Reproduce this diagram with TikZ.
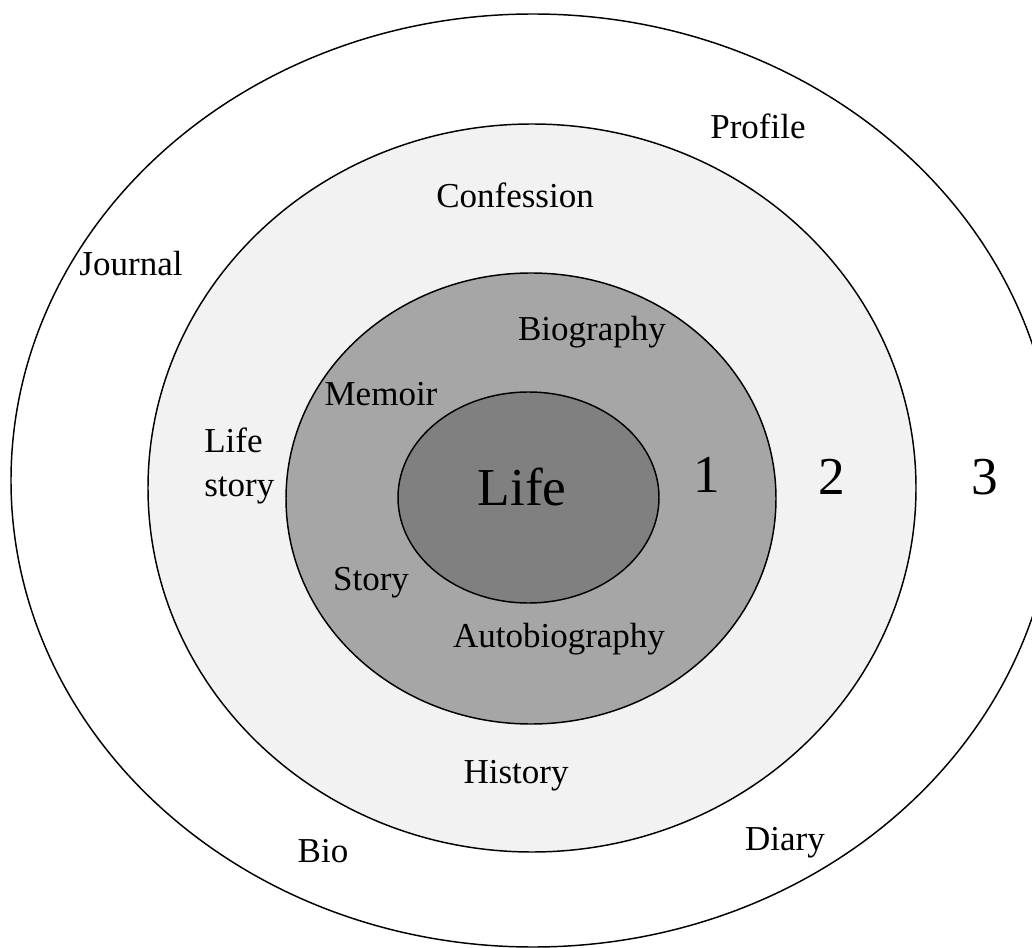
\documentclass[tikz,border=0pt]{standalone}
\usepackage{fontspec}
\setmainfont{Liberation Serif}
\definecolor{ringtwo}{HTML}{F2F2F2}
\definecolor{ringone}{HTML}{A6A6A6}
\definecolor{core}{HTML}{808080}
\begin{document}
\begin{tikzpicture}[x=0.75pt,y=-0.75pt,
  ring/.style={draw=black,line width=1.1pt},
  lbl/.style={anchor=base,inner sep=0pt,font=\fontsize{26.25}{31.5}\selectfont},
  biglbl/.style={anchor=base,inner sep=0pt,font=\fontsize{40}{48}\selectfont}]
\useasboundingbox (0,0) rectangle (1032,948);
\clip (0,0) rectangle (1032,948);
\fill[white] (0,0) rectangle (1032,948);
\draw[ring,fill=white] (533,480.5) ellipse [x radius=522, y radius=466.5];
\draw[ring,fill=ringtwo] (532,488) ellipse [x radius=384, y radius=364];
\draw[ring,fill=ringone] (531,498.5) ellipse [x radius=245, y radius=225.5];
\draw[ring,fill=core] (528.5,497.5) ellipse [x radius=130.5, y radius=105.5];
% ring 3
\node[lbl] (profile) at (758,139) {Profile};
\node[lbl] (journal) at (131,276) {Journal};
\node[lbl] (bio) at (323,862) {Bio};
\node[lbl] (diary) at (785,850) {Diary};
\node[biglbl] (three) at (985,494) {3};
% ring 2
\node[lbl] (confession) at (515,208) {Confession};
\node[lbl,anchor=base west] (lifestoryA) at (204,453) {Life};
\node[lbl,anchor=base west] (lifestoryB) at (204,497) {story};
\node[lbl] (history) at (516,783) {History};
\node[biglbl] (two) at (832,494) {2};
% ring 1
\node[lbl] (biography) at (592,341) {Biography};
\node[lbl] (memoir) at (381,406) {Memoir};
\node[lbl] (story) at (371,590) {Story};
\node[lbl] (autobiography) at (559,647) {Autobiography};
\node[biglbl] (one) at (707,493) {1};
% core
\node[biglbl] (life) at (522,505) {Life};
\end{tikzpicture}
\end{document}
